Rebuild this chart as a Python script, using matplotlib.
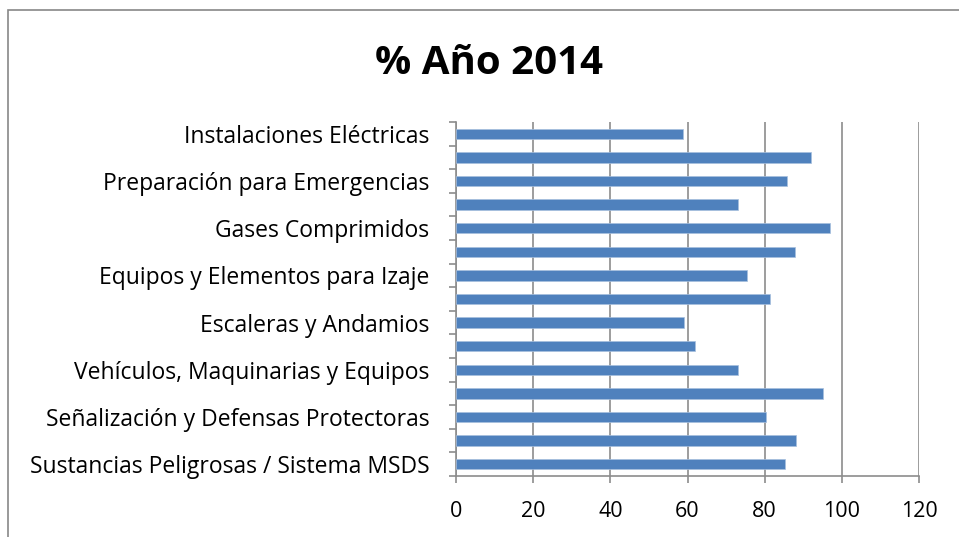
import numpy as np
import matplotlib
matplotlib.use('Agg')
import matplotlib.pyplot as plt
from matplotlib.patches import Rectangle

# categories from bottom to top; Excel only shows every other label
labels = [
    'Sustancias Peligrosas / Sistema MSDS', '',
    'Señalización y Defensas Protectoras', '',
    'Vehículos, Maquinarias y Equipos', '',
    'Escaleras y Andamios', '',
    'Equipos y Elementos para Izaje', '',
    'Gases Comprimidos', '',
    'Preparación para Emergencias', '',
    'Instalaciones Eléctricas',
]
values = [85.2, 88.0, 80.3, 95.0, 73.0, 62.0, 59.0, 81.5, 75.4, 87.8,
          96.9, 73.1, 85.9, 92.1, 58.8]
xticks = [0, 20, 40, 60, 80, 100, 120]

W, H = 959, 537
fig = plt.figure(figsize=(W / 100, H / 100), dpi=100)
plt.rcParams['font.family'] = ['Open Sans', 'DejaVu Sans']

# outer chart border
fig.patches.append(Rectangle((8 / W, -0.1), 1.2, 1 - 10 / H + 0.1, transform=fig.transFigure,
                             fill=False, edgecolor='#888888', linewidth=1.2))

ax = fig.add_axes([456 / W, 1 - 476 / H, (919 - 456) / W, (476 - 122) / H])
y = np.arange(len(values))
ax.barh(y, values, height=0.44, color='#4F81BD', edgecolor='#A7BFDE', linewidth=0.5, zorder=3)

ax.set_xlim(0, 120)
ax.set_ylim(-0.5, len(values) - 0.5)
ax.set_xticks(xticks)
ax.set_xticklabels([str(v) for v in xticks], fontsize=15.5)
ax.xaxis.grid(True, color='#8C8C8C', linewidth=1.2, zorder=0)

ax.set_yticks(y)
ax.set_yticklabels(labels, fontsize=16.5)
ax.set_yticks(np.arange(-0.5, len(values), 1), minor=True)
ax.tick_params(axis='y', which='major', length=0, pad=19)
ax.tick_params(axis='y', which='minor', length=5, color='#8C8C8C', width=1.2)
ax.tick_params(axis='x', length=5, color='#8C8C8C', width=1.2, pad=13)

for s in ['top', 'right']:
    ax.spines[s].set_visible(False)
for s in ['left', 'bottom']:
    ax.spines[s].set_color('#8C8C8C')
    ax.spines[s].set_linewidth(1.2)

fig.text(489 / W, 1 - 64 / H, '% Año 2014', ha='center', va='center',
         fontsize=29, fontweight='bold')

fig.savefig('out.png', dpi=100)
